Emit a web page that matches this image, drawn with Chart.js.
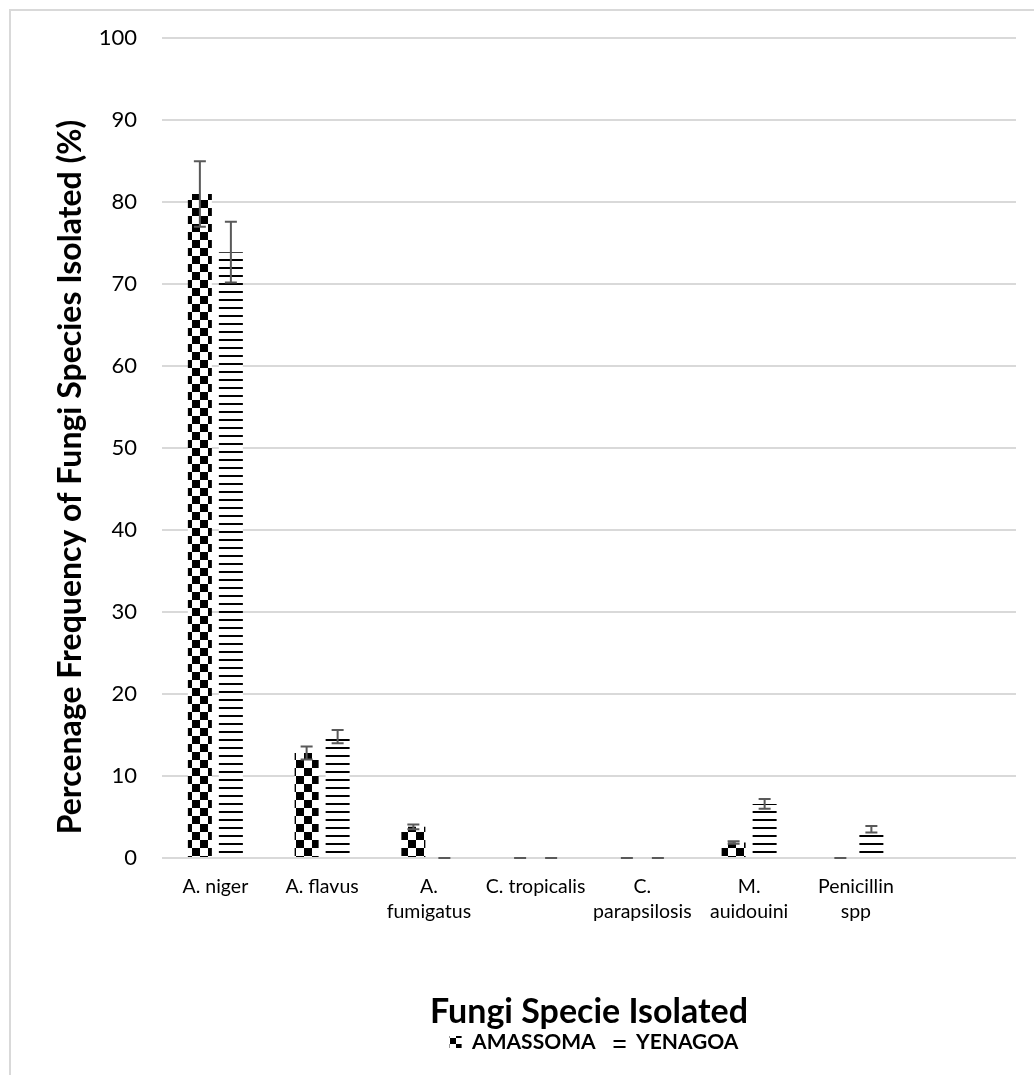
<!DOCTYPE html>
<html>
<head>
<meta charset="utf-8">
<script src="https://cdn.jsdelivr.net/npm/chart.js@4.4.0/dist/chart.umd.min.js"></script>
<style>
html, body { margin: 0; padding: 0; background: #fff; overflow: hidden; }
#frame { position: absolute; left: 9px; top: 9px; width: 1100px; height: 1100px; border: 2px solid #d9d9d9; }
#wrap { position: absolute; left: 0; top: 0; width: 1034px; height: 1075px; }
</style>
</head>
<body>
<div id="frame"></div>
<div id="wrap"><canvas id="chart" width="1034" height="1075"></canvas></div>
<script>
// Data
const categories = ['A. niger', 'A. flavus', ['A.', 'fumigatus'], 'C. tropicalis', ['C.', 'parapsilosis'], ['M.', 'auidouini'], ['Penicillin', 'spp'], ''];
const amassoma = [81.0, 12.8, 3.8, 0, 0, 1.9, 0, null];
const yenagoa = [73.9, 14.8, 0, 0, 0, 6.6, 3.5, null];
const errAmassoma = [4.0, 0.8, 0.3, 0, 0, 0.15, 0, null];
const errYenagoa = [3.7, 0.8, 0, 0, 0, 0.6, 0.4, null];
const yTicks = [0, 10, 20, 30, 40, 50, 60, 70, 80, 90, 100];

const FONT = 'Lato, "Open Sans", sans-serif';

// Fill patterns
function checkerPattern(ctx, size) {
    const c = document.createElement('canvas');
    c.width = size * 2; c.height = size * 2;
    const g = c.getContext('2d');
    g.fillStyle = '#fff';
    g.fillRect(0, 0, size * 2, size * 2);
    g.fillStyle = '#000';
    g.fillRect(0, 0, size, size);
    g.fillRect(size, size, size, size);
    return ctx.createPattern(c, 'repeat');
}

function linePattern(ctx, step) {
    const c = document.createElement('canvas');
    c.width = step; c.height = step;
    const g = c.getContext('2d');
    g.fillStyle = '#fff';
    g.fillRect(0, 0, step, step);
    g.fillStyle = '#000';
    g.fillRect(0, Math.floor(step / 2) - 1, step, 2);
    return ctx.createPattern(c, 'repeat');
}

// Error bars drawn through the y scale
const errorBars = {
    id: 'errorBars',
    afterDatasetsDraw(chart) {
        const ctx = chart.ctx;
        const y = chart.scales.y;
        const errs = [errAmassoma, errYenagoa];
        chart.data.datasets.forEach((ds, i) => {
            const meta = chart.getDatasetMeta(i);
            meta.data.forEach((bar, j) => {
                const v = ds.data[j];
                const e = errs[i][j];
                if (v == null || e == null) return;
                const top = y.getPixelForValue(v + e);
                const bot = y.getPixelForValue(v - e);
                ctx.save();
                ctx.strokeStyle = '#595959';
                ctx.lineWidth = 2;
                ctx.beginPath();
                ctx.moveTo(bar.x, top); ctx.lineTo(bar.x, bot);
                ctx.moveTo(bar.x - 6, top); ctx.lineTo(bar.x + 6, top);
                ctx.moveTo(bar.x - 6, bot); ctx.lineTo(bar.x + 6, bot);
                ctx.stroke();
                ctx.restore();
            });
        });
    }
};

// Y axis title, placed like the original
const yTitle = {
    id: 'yTitle',
    afterDraw(chart) {
        const ctx = chart.ctx;
        ctx.save();
        ctx.translate(71, 477);
        ctx.rotate(-Math.PI / 2);
        ctx.font = 'bold 32px ' + FONT;
        ctx.fillStyle = '#000';
        ctx.textAlign = 'center';
        ctx.textBaseline = 'middle';
        ctx.fillText('Percenage Frequency of Fungi Species Isolated (%)', 0, 0);
        ctx.restore();
    }
};

// Move legend under the middle of the plot
const shiftLegend = {
    id: 'shiftLegend',
    afterLayout(chart) {
        chart.legend.left += 86;
        chart.legend.right += 86;
    }
};

const ctx = document.getElementById('chart').getContext('2d');
const checkerFill = checkerPattern(ctx, 8);
const lineFill = linePattern(ctx, 8);
const legendFills = [checkerPattern(ctx, 6), linePattern(ctx, 6)];

new Chart(ctx, {
    type: 'bar',
    data: {
        labels: categories,
        datasets: [
            {
                label: 'AMASSOMA',
                data: amassoma,
                backgroundColor: checkerFill,
                borderWidth: 0
            },
            {
                label: 'YENAGOA',
                data: yenagoa,
                backgroundColor: lineFill,
                borderWidth: 0
            }
        ]
    },
    options: {
        responsive: false,
        animation: false,
        devicePixelRatio: 1,
        categoryPercentage: 0.581,
        barPercentage: 0.774,
        layout: { padding: { top: 38, right: 18, bottom: 12.5, left: 0 } },
        plugins: {
            legend: {
                position: 'bottom',
                labels: {
                    font: { family: FONT, size: 21, weight: 'bold' },
                    color: '#000',
                    boxWidth: 12,
                    boxHeight: 12,
                    padding: 18,
                    generateLabels(chart) {
                        return chart.data.datasets.map((ds, i) => ({
                            text: ds.label,
                            fillStyle: legendFills[i],
                            strokeStyle: 'rgba(0,0,0,0)',
                            lineWidth: 0,
                            fontColor: '#000',
                            datasetIndex: i
                        }));
                    }
                }
            },
            tooltip: { enabled: false }
        },
        scales: {
            x: {
                grid: { display: false, drawTicks: false },
                border: { display: false },
                ticks: {
                    font: { family: FONT, size: 19.5, lineHeight: 1.28 },
                    color: '#000',
                    padding: 16,
                    maxRotation: 0,
                    autoSkip: false
                },
                title: {
                    display: true,
                    text: 'Fungi Specie Isolated',
                    font: { family: FONT, size: 34, weight: 'bold' },
                    color: '#000',
                    padding: { top: 0, bottom: -19 }
                },
                afterFit(scale) { scale.height = 155.5; }
            },
            y: {
                min: 0,
                max: 100,
                grid: { color: '#d9d9d9', lineWidth: 2, drawTicks: false },
                border: { display: false },
                afterBuildTicks(scale) { scale.ticks = yTicks.map(v => ({ value: v })); },
                ticks: {
                    font: { family: FONT, size: 22 },
                    color: '#000',
                    padding: 25
                },
                afterFit(scale) { scale.width = 162; }
            }
        }
    },
    plugins: [errorBars, yTitle, shiftLegend]
});
</script>
</body>
</html>
